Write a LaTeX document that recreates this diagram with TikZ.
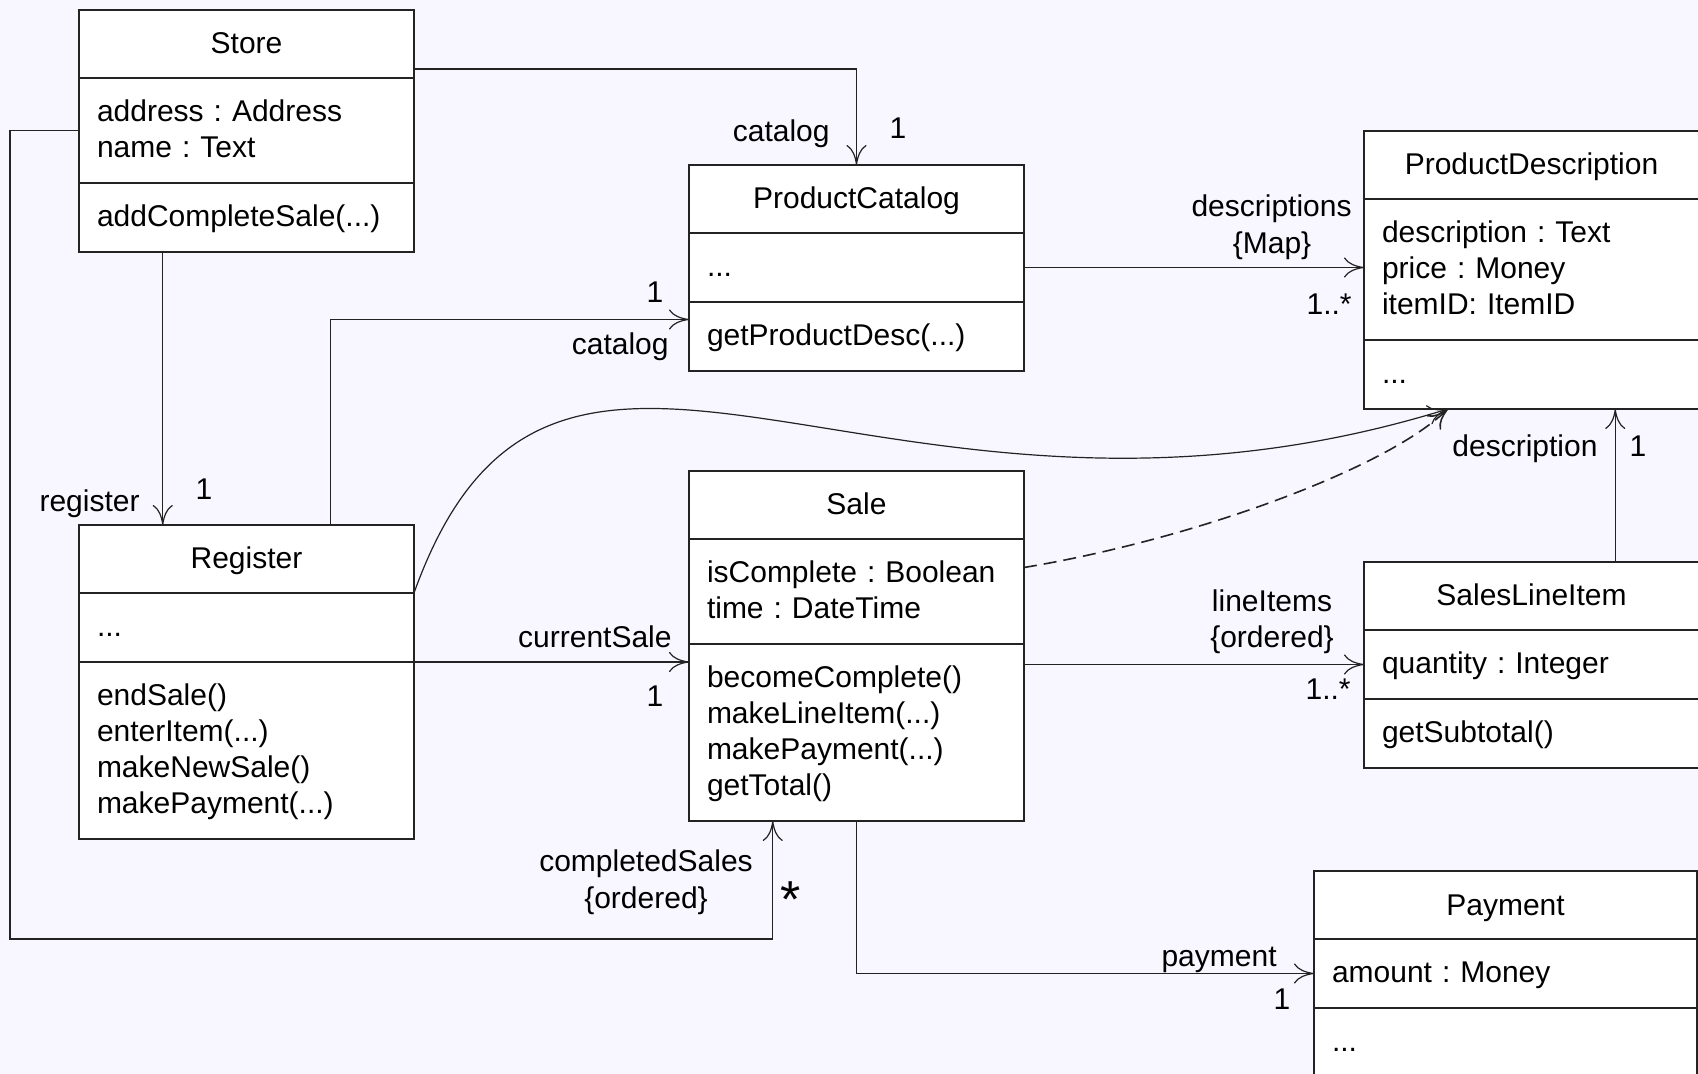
\documentclass[tikz,border=0pt]{standalone}
\usepackage{fontspec}
\setmainfont{Liberation Sans}
\usetikzlibrary{arrows.meta, positioning, calc}
\definecolor{umlbg}{RGB}{248, 246, 255}
\definecolor{umlline}{RGB}{35, 35, 35}
\newcommand{\umlfont}{\fontsize{15}{18}\selectfont}
\frenchspacing

\begin{document}
\begin{tikzpicture}[
  x=0.5pt, y=-0.5pt,
  node distance=0pt,
  head/.style={
    rectangle, draw=umlline, fill=white, line width=0.6pt,
    minimum width=167.5pt, minimum height=34pt,
    inner sep=0pt, outer sep=0pt,
    text height=12.5pt, text depth=2.5pt, font=\umlfont
  },
  part/.style={
    rectangle, draw=umlline, fill=white, line width=0.6pt,
    text width=149.5pt, inner xsep=9pt, inner ysep=0pt, outer sep=0pt,
    align=left, font=\umlfont,
    minimum height=16.5pt+18pt*#1,
    execute at begin node=\rule{0pt}{13.6pt},
    execute at end node=\rule[-4.4pt]{0pt}{4.4pt}
  },
  part/.default=1,
  lbl/.style={font=\umlfont, inner sep=0pt},
  assoc/.style={draw=umlline, line width=0.6pt, -{To[length=10pt, width=10pt]}}
]
  \fill[umlbg] (0,0) rectangle (1698,1074);
  \useasboundingbox (0,0) rectangle (1698,1074);

  % Classes
  \node[head, anchor=north west] (store) at (79,10) {Store};
  \node[part=2, below=of store] (store-a) {address : Address\\name : Text};
  \node[part, below=of store-a] (store-m) {addCompleteSale(...)};

  \node[head, anchor=north west] (catalog) at (689,165) {ProductCatalog};
  \node[part, below=of catalog] (catalog-a) {...};
  \node[part, below=of catalog-a] (catalog-m) {getProductDesc(...)};

  \node[head, anchor=north west] (pd) at (1364,131) {ProductDescription};
  \node[part=3, below=of pd] (pd-a) {description : Text\\price : Money\\itemID: ItemID};
  \node[part, below=of pd-a] (pd-m) {...};

  \node[head, anchor=north west] (reg) at (79,525) {Register};
  \node[part, below=of reg] (reg-a) {...};
  \node[part=4, below=of reg-a] (reg-m) {endSale()\\enterItem(...)\\makeNewSale()\\makePayment(...)};

  \node[head, anchor=north west] (sale) at (689,471) {Sale};
  \node[part=2, below=of sale] (sale-a) {isComplete : Boolean\\time : DateTime};
  \node[part=4, below=of sale-a] (sale-m) {becomeComplete()\\makeLineItem(...)\\makePayment(...)\\getTotal()};

  \node[head, anchor=north west] (sli) at (1364,562) {SalesLineItem};
  \node[part, below=of sli] (sli-a) {quantity : Integer};
  \node[part, below=of sli-a] (sli-m) {getSubtotal()};

  \node[head, minimum width=191.5pt, anchor=north west] (pay) at (1314,871) {Payment};
  \node[part, text width=173.5pt, below=of pay] (pay-a) {amount : Money};
  \node[part, text width=173.5pt, below=of pay-a] (pay-m) {...};

  % Associations
  \draw[assoc] ([yshift=4.5pt]store.south east) -| (catalog.north);
  \draw[assoc] ($(store-m.south west)!.25!(store-m.south east)$) -- ($(reg.north west)!.25!(reg.north east)$);
  \draw[assoc] ($(reg.north west)!.75!(reg.north east)$) |- ([yshift=8.5pt]catalog-m.west);
  \draw[assoc] (catalog-a.east) -- (catalog-a.east -| pd-a.west);
  \draw[assoc] (reg-m.north east) -- (reg-m.north east -| sale-m.west);
  \draw[assoc] (sli-a.west -| sale-m.east) -- (sli-a.west);
  \draw[assoc] ($(sli.north west)!.75!(sli.north east)$) -- ($(pd-m.south west)!.75!(pd-m.south east)$);
  \draw[assoc] (sale-m.south) |- (pay-a.west);
  \coordinate (loop) at (10,939);
  \draw[assoc] (store-a.west) -| (loop) -| ($(sale-m.south west)!.25!(sale-m.south east)$);
  \coordinate (pd-in) at ($(pd-m.south west)!.25!(pd-m.south east)$);
  \draw[assoc] (reg-a.north east) .. controls (555,200) and (880,585) .. (pd-in);
  \draw[assoc, line width=0.8pt, dash pattern=on 6.5pt off 3.5pt] ([yshift=12pt]sale-a.east) .. controls (1190,540) and (1385,470) .. (pd-in);

  % Role names and multiplicities
  \node[lbl, anchor=base east] (l-cat) at (830,142) {catalog};
  \node[lbl, anchor=base] (m-cat) at (898,139) {1};
  \node[lbl, anchor=base] (m-regcat) at (655,303) {1};
  \node[lbl, anchor=base east] (l-regcat) at (669,355) {catalog};
  \node[lbl, anchor=base east] (l-reg) at (140,512) {register};
  \node[lbl, anchor=base] (m-reg) at (204,500) {1};
  \node[lbl, anchor=base east] (l-desc) at (1352,217) {descriptions};
  \node[lbl, anchor=base] (l-map) at (1272,254) {\{Map\}};
  \node[lbl, anchor=base east] (m-desc) at (1352,315) {1..*};
  \node[lbl, anchor=base east] (l-cur) at (672,648) {currentSale};
  \node[lbl, anchor=base] (m-cur) at (655,707) {1};
  \node[lbl, anchor=base] (l-items) at (1272,612) {lineItems};
  \node[lbl, anchor=base] (l-itemsord) at (1272,648) {\{ordered\}};
  \node[lbl, anchor=base east] (m-items) at (1351,700) {1..*};
  \node[lbl, anchor=base west] (l-descr) at (1452,457) {description};
  \node[lbl, anchor=base] (m-descr) at (1638,457) {1};
  \node[lbl, anchor=base] (l-done) at (646,871) {completedSales};
  \node[lbl, anchor=base] (l-doneord) at (646,908) {\{ordered\}};
  \node[lbl, font=\fontsize{26}{26}\selectfont, anchor=base] (m-done) at (791,917) {*};
  \node[lbl, anchor=base east] (l-pay) at (1277,966) {payment};
  \node[lbl, anchor=base] (m-pay) at (1282,1009) {1};
\end{tikzpicture}
\end{document}
